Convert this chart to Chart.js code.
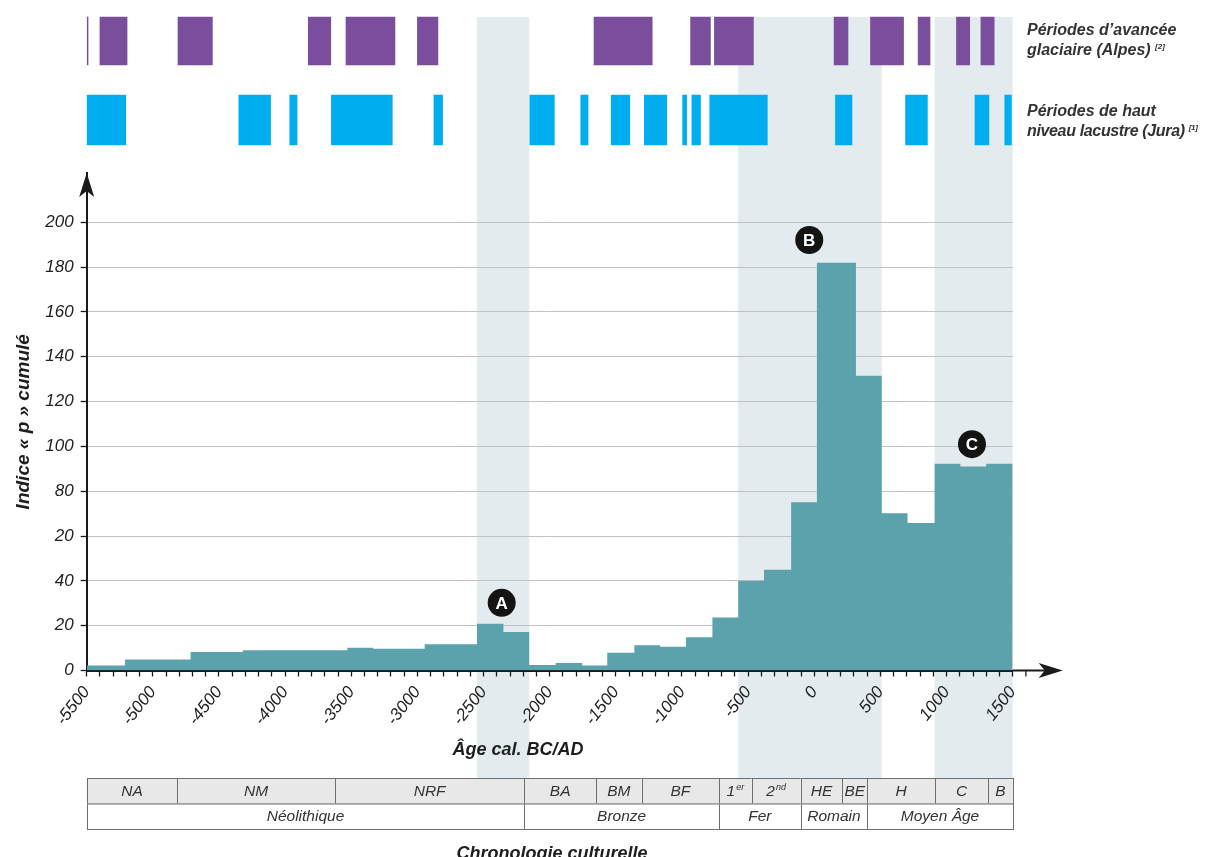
<!DOCTYPE html>
<html><head><meta charset="utf-8">
<script src="https://cdn.jsdelivr.net/npm/chart.js@4.4.1/dist/chart.umd.min.js"></script>
<style>
html,body{margin:0;padding:0;background:#fff;}
#wrap{position:relative;width:1205px;height:857px;overflow:hidden;background:#fff;}
canvas{position:absolute;left:0;top:0;}
.lbl{position:absolute;left:1027px;font:italic bold 16px "Liberation Sans",Arial,sans-serif;color:#333;line-height:20px;white-space:nowrap;}
.lbl sup{font-size:8px;line-height:0;vertical-align:6px;}
.tight{letter-spacing:-0.35px;}
</style></head><body>
<div id="wrap">
<canvas id="main" width="1205" height="857"></canvas>
<canvas id="bands" width="1205" height="160"></canvas>
<div class="lbl" style="top:20px">Périodes d’avancée<br>glaciaire (Alpes) <sup>[2]</sup></div>
<div class="lbl" style="top:101px">Périodes de haut<br><span class="tight">niveau lacustre (Jura) <sup>[1]</sup></span></div>
</div>
<script>
const FONT = '"Liberation Sans", Arial, Helvetica, sans-serif';

// Histogram bins (years cal. BC/AD) and cumulative "p" index
const binEdges = [-5500,-5210,-4715,-4320,-3530,-3335,-2945,-2550,-2350,-2155,-1955,-1755,-1565,-1360,-1165,-970,-770,-575,-380,-175,20,315,510,705,910,1105,1300,1500];
const binValues = [2.2,4.9,8.2,9.0,10.1,9.7,11.7,20.9,17.2,2.4,3.4,2.2,7.9,11.3,10.6,14.8,23.7,40.1,45,75.1,182,131.5,70.2,65.8,92.3,91,92.3];

// Y axis ticks (labels as printed in the original figure)
const yTickValues = [0,20,40,60,80,100,120,140,160,180,200];
const yTickLabels = ['0','20','40','20','80','100','120','140','160','180','200'];

// X axis labelled ticks
const xTickLabels = ['-5500','-5000','-4500','-4000','-3500','-3000','-2500','-2000','-1500','-1000','-500','0','500','1000','1500'];

// Highlighted periods A, B, C
const shadeStarts = [-2550,-575,910];
const shadeEnds   = [-2155,510,1500];

// Markers
const markerLabels = ['A','B','C'];
const markerX = [-2363,-38,1192];
const markerY = [30.2,192.1,101];

// Glacier advance periods (Alps)
const glacierStarts = [-5498,-5400,-4810,-3825,-3540,-3000,-1665,-935,-755,150,425,785,1075,1260];
const glacierEnds   = [-5490,-5195,-4550,-3655,-3170,-2845,-1225,-785,-460,255,675,875,1175,1360];

// High lake level periods (Jura)
const lakeStarts = [-5500,-4350,-3965,-3650,-2875,-2150,-1765,-1535,-1285,-995,-925,-790,160,690,1215,1440];
const lakeEnds   = [-5205,-4110,-3910,-3190,-2810,-1965,-1710,-1395,-1115,-965,-860,-355,285,855,1320,1490];

// Cultural chronology
const subPeriods = ['NA','NM','NRF','BA','BM','BF','1er','2nd','HE','BE','H','C','B'];
const subBounds  = [-5500,-4815,-3623,-2192,-1650,-1305,-720,-473,-103,212,401,913,1316,1500];
const periods = ['Néolithique','Bronze','Fer','Romain','Moyen Âge'];
const periodBounds = [-5500,-2192,-720,-103,401,1500];

// ---- build library structures ----
const histPoints = binValues.map((v,i)=>({x:binEdges[i], y:v}));
histPoints.push({x:binEdges[binEdges.length-1], y:binValues[binValues.length-1]});
const markerPoints = markerX.map((x,i)=>({x, y:markerY[i]}));
const xTickValues = [];
for (let v=-5500; v<=1500; v+=100) xTickValues.push(v);

const shadePlugin = {
  id:'shade',
  beforeDraw(chart){
    const {ctx, scales:{x}} = chart;
    ctx.save();
    ctx.fillStyle = '#e3ebef';
    shadeStarts.forEach((s,i)=>{
      const x0 = x.getPixelForValue(s), x1 = x.getPixelForValue(shadeEnds[i]);
      ctx.fillRect(x0, 17, x1-x0, 778-17);
    });
    ctx.restore();
  }
};

function drawCellText(ctx, txt, cx, cy){
  const m = /^(\d)(\D+)$/.exec(txt);
  if (m){
    ctx.font = 'italic 15.5px ' + FONT;
    const w1 = ctx.measureText(m[1]).width;
    ctx.font = 'italic 9px ' + FONT;
    const w2 = ctx.measureText(m[2]).width;
    const start = cx - (w1+w2+1)/2;
    ctx.textAlign='left';
    ctx.font = 'italic 15.5px ' + FONT;
    ctx.fillText(m[1], start, cy);
    ctx.font = 'italic 9px ' + FONT;
    ctx.fillText(m[2], start+w1+1, cy-4);
    ctx.textAlign='center';
  } else {
    ctx.font = 'italic 15.5px ' + FONT;
    ctx.fillText(txt, cx, cy);
  }
}

const overlayPlugin = {
  id:'overlay',
  afterDatasetsDraw(chart){
    const {ctx} = chart;
    const meta = chart.getDatasetMeta(1);
    ctx.save();
    ctx.fillStyle='#fff';
    ctx.font='bold 17px ' + FONT;
    ctx.textAlign='center'; ctx.textBaseline='middle';
    meta.data.forEach((pt,i)=>{ ctx.fillText(markerLabels[i], pt.x, pt.y+1); });
    ctx.restore();
  },
  afterDraw(chart){
    const {ctx, chartArea:a, scales:{x,y}} = chart;
    const yb = y.getPixelForValue(0);
    ctx.save();
    ctx.strokeStyle='#1a1a1a'; ctx.fillStyle='#1a1a1a';
    ctx.lineWidth=2;
    ctx.beginPath(); ctx.moveTo(a.right, yb); ctx.lineTo(a.right+42, yb); ctx.stroke();
    ctx.lineWidth=1.3;
    const xt = x.getPixelForValue(1600);
    ctx.beginPath(); ctx.moveTo(xt, yb); ctx.lineTo(xt, yb+6); ctx.stroke();
    ctx.beginPath();
    ctx.moveTo(a.right+50, yb); ctx.lineTo(a.right+26, yb-7.5); ctx.lineTo(a.right+32, yb); ctx.lineTo(a.right+26, yb+7.5);
    ctx.closePath(); ctx.fill();
    const xl = a.left;
    ctx.beginPath();
    ctx.moveTo(xl, a.top); ctx.lineTo(xl-7.5, a.top+24); ctx.lineTo(xl, a.top+18); ctx.lineTo(xl+7.5, a.top+24);
    ctx.closePath(); ctx.fill();

    ctx.fillStyle='#1e1e1e';
    ctx.font='italic bold 18px ' + FONT;
    ctx.textAlign='center'; ctx.textBaseline='middle';
    ctx.fillText('Âge cal. BC/AD', 518, 750);

    const top = 778, h = 25.5;
    ctx.lineWidth = 1; ctx.strokeStyle = '#6e6e6e';
    subPeriods.forEach((p,i)=>{
      const x0 = x.getPixelForValue(subBounds[i]), x1 = x.getPixelForValue(subBounds[i+1]);
      ctx.fillStyle='#e8e8e8'; ctx.fillRect(x0, top, x1-x0, h);
      ctx.strokeRect(Math.round(x0)+0.5, top+0.5, Math.round(x1)-Math.round(x0), h);
      ctx.fillStyle='#333'; ctx.textAlign='center'; ctx.textBaseline='middle';
      drawCellText(ctx, p, (x0+x1)/2, top+h/2+0.5);
    });
    periods.forEach((p,i)=>{
      const x0 = x.getPixelForValue(periodBounds[i]), x1 = x.getPixelForValue(periodBounds[i+1]);
      ctx.fillStyle='#fff'; ctx.fillRect(x0, top+h, x1-x0, h);
      ctx.strokeRect(Math.round(x0)+0.5, top+h+0.5, Math.round(x1)-Math.round(x0), h);
      ctx.fillStyle='#333'; ctx.textAlign='center'; ctx.textBaseline='middle';
      drawCellText(ctx, p, (x0+x1)/2, top+h*1.5+0.5);
    });

    ctx.fillStyle='#1e1e1e';
    ctx.font='italic bold 18px ' + FONT;
    ctx.textAlign='center'; ctx.textBaseline='alphabetic';
    ctx.fillText('Chronologie culturelle', 552, 859);
    ctx.restore();
  }
};

new Chart(document.getElementById('main'), {
  type:'line',
  data:{ datasets:[
    { label:'Indice « p » cumulé', data:histPoints, stepped:'before', fill:'origin',
      backgroundColor:'#5ba2ac', borderColor:'rgba(0,0,0,0)', borderWidth:0, pointRadius:0, order:2 },
    { type:'scatter', label:'Repères', data:markerPoints, pointRadius:14, pointHoverRadius:14,
      backgroundColor:'#141414', borderWidth:0, order:1 }
  ]},
  options:{
    responsive:false, animation:false, events:[],
    layout:{padding:{top:173, right:192.3, bottom:97, left:0}},
    plugins:{legend:{display:false}, tooltip:{enabled:false}},
    scales:{
      x:{ type:'linear', min:-5500, max:1500,
        afterBuildTicks:s=>{ s.ticks = xTickValues.map(v=>({value:v})); },
        afterFit:s=>{ s.height = 89.5; },
        ticks:{ autoSkip:false, minRotation:52, maxRotation:52, padding:6, color:'#222',
          font:{family:FONT, size:17, style:'italic'},
          callback:v=> xTickLabels.includes(String(v)) ? String(v) : '' },
        grid:{ drawOnChartArea:false, drawTicks:true, tickLength:6, tickColor:'#1a1a1a', tickWidth:1.3 },
        border:{ display:true, color:'#1a1a1a', width:2 }
      },
      y:{ type:'linear', min:0, max:222,
        afterBuildTicks:s=>{ s.ticks = yTickValues.map(v=>({value:v})); },
        afterFit:s=>{ s.width = 86.7; },
        ticks:{ padding:7, color:'#222', font:{family:FONT, size:17, style:'italic'},
          callback:v=>{ const i = yTickValues.indexOf(v); return i>=0 ? yTickLabels[i] : ''; } },
        grid:{ color:'#c2c2c2', lineWidth:1, drawTicks:true, tickLength:6, tickColor:'#1a1a1a', tickWidth:1.3 },
        border:{ display:true, color:'#1a1a1a', width:2 },
        title:{ display:true, text:'Indice « p » cumulé', color:'#1e1e1e',
          font:{family:FONT, size:19, weight:'bold', style:'italic'}, padding:{top:12, bottom:0} }
      }
    }
  },
  plugins:[shadePlugin, overlayPlugin]
});

new Chart(document.getElementById('bands'), {
  type:'bar',
  data:{ labels:['glacier','lac'], datasets:[
    { label:'Périodes d’avancée glaciaire (Alpes)', data:glacierStarts.map((s,i)=>({x:[s, glacierEnds[i]], y:'glacier'})),
      backgroundColor:'#7a4e9c', borderWidth:0, barThickness:48, grouped:false },
    { label:'Périodes de haut niveau lacustre (Jura)', data:lakeStarts.map((s,i)=>({x:[s, lakeEnds[i]], y:'lac'})),
      backgroundColor:'#00adee', borderWidth:0, barThickness:50, grouped:false }
  ]},
  options:{
    indexAxis:'y', responsive:false, animation:false, events:[],
    layout:{padding:{left:86.7, right:192.3, top:1.5, bottom:0.5}},
    plugins:{legend:{display:false}, tooltip:{enabled:false}},
    scales:{
      x:{ type:'linear', min:-5500, max:1500, display:false },
      y:{ type:'category', display:false, offset:true }
    }
  }
});
</script>
</body></html>
